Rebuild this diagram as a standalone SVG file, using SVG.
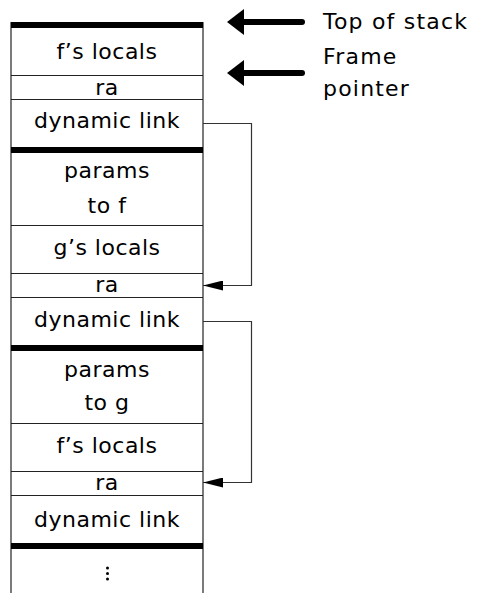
<svg xmlns="http://www.w3.org/2000/svg" width="480" height="593" viewBox="0 0 480 593">
<defs>
<style>
text{font-family:"DejaVu Sans","Liberation Sans",sans-serif;font-size:22px;letter-spacing:0.5px;fill:#000}
.c{text-anchor:middle}
.lbl{letter-spacing:1.2px}
.sep{stroke:#222;stroke-width:1.2;fill:none}
.thick{fill:#000}
.conn{stroke:#333;stroke-width:1.2;fill:none}
.big{stroke:#000;stroke-width:6;stroke-linecap:round;fill:none}
</style>
<marker id="ah" viewBox="0 0 20 10" refX="20" refY="5" markerWidth="20" markerHeight="10" markerUnits="userSpaceOnUse" orient="auto">
<path d="M0,0 L20,5 L0,10 Z" fill="#000"/>
</marker>
</defs>
<g id="stack-frame">
<line class="sep" x1="11" y1="22" x2="11" y2="593"/>
<line class="sep" x1="203" y1="22" x2="203" y2="593"/>
<rect class="thick" x="11" y="22" width="192" height="6"/>
<rect class="thick" x="11" y="147" width="192" height="6"/>
<rect class="thick" x="11" y="345" width="192" height="6"/>
<rect class="thick" x="11" y="543" width="192" height="6"/>
</g>
<g id="f-locals-1"><text class="c" x="107" y="59">f’s locals</text><line class="sep" x1="11" y1="75.5" x2="203" y2="75.5"/></g>
<g id="ra-1"><text class="c" x="107" y="95">ra</text><line class="sep" x1="11" y1="99.5" x2="203" y2="99.5"/></g>
<g id="dl-1"><text class="c" x="107" y="128">dynamic link</text></g>
<g id="params-f"><text class="c" x="107" y="178">params</text><text class="c" x="107" y="213">to f</text><line class="sep" x1="11" y1="225.5" x2="203" y2="225.5"/></g>
<g id="g-locals"><text class="c" x="107" y="255">g’s locals</text><line class="sep" x1="11" y1="273.5" x2="203" y2="273.5"/></g>
<g id="ra-2"><text class="c" x="107" y="292">ra</text><line class="sep" x1="11" y1="297.5" x2="203" y2="297.5"/></g>
<g id="dl-2"><text class="c" x="107" y="327">dynamic link</text></g>
<g id="params-g"><text class="c" x="107" y="377">params</text><text class="c" x="107" y="410">to g</text><line class="sep" x1="11" y1="423.5" x2="203" y2="423.5"/></g>
<g id="f-locals-2"><text class="c" x="107" y="453">f’s locals</text><line class="sep" x1="11" y1="471.5" x2="203" y2="471.5"/></g>
<g id="ra-3"><text class="c" x="107" y="490">ra</text><line class="sep" x1="11" y1="495.5" x2="203" y2="495.5"/></g>
<g id="dl-3"><text class="c" x="107" y="527">dynamic link</text></g>
<g id="more">
<circle cx="107.5" cy="568" r="1.5" fill="#000"/>
<circle cx="107.5" cy="573.5" r="1.5" fill="#000"/>
<circle cx="107.5" cy="579" r="1.5" fill="#000"/>
</g>
<g id="top-label">
<line class="big" x1="240" y1="22" x2="302" y2="22"/>
<path d="M227,22 L244,9 L244,35 Z" fill="#000"/>
<text class="lbl" x="323" y="29">Top of stack</text>
</g>
<g id="fp-label">
<line class="big" x1="240" y1="73" x2="302" y2="73"/>
<path d="M227,73 L244,60 L244,86 Z" fill="#000"/>
<text class="lbl" x="323" y="64">Frame</text>
<text class="lbl" x="323" y="96">pointer</text>
</g>
<g id="connectors">
<polyline class="conn" points="203,123.5 251.5,123.5 251.5,285.5 203,285.5" marker-end="url(#ah)"/>
<polyline class="conn" points="203,321.5 251.5,321.5 251.5,482.5 203,482.5" marker-end="url(#ah)"/>
</g>
</svg>
